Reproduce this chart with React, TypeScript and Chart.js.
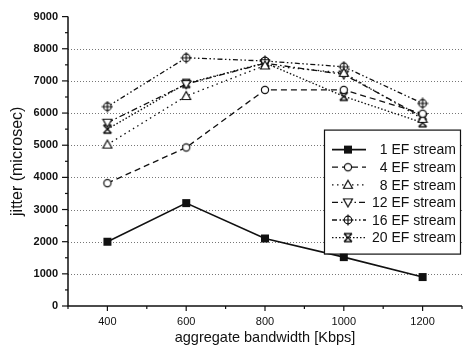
import React, { useEffect, useRef } from 'react';
import { Chart, registerables } from 'chart.js';

Chart.register(...registerables);

const bandwidth = [400, 600, 800, 1000, 1200];
const seriesNames = ['1 EF stream', '4 EF stream', '8 EF stream', '12 EF stream', '16 EF stream', '20 EF stream'];
const ef1 = [2000, 3200, 2100, 1520, 900];
const ef4 = [3820, 4930, 6720, 6720, 5980];
const ef8 = [5020, 6530, 7480, 7250, 5820];
const ef12 = [5700, 6900, 7550, 7200, 5880];
const ef16 = [6200, 7720, 7620, 7440, 6300];
const ef20 = [5500, 6920, 7560, 6520, 5700];
const yTickValues = [0, 1000, 2000, 3000, 4000, 5000, 6000, 7000, 8000, 9000];
const xTickLabels = [400, 600, 800, 1000, 1200];

const INK = '#111';
const FONT = 'Liberation Sans, Arial, sans-serif';

const markerKinds = ['square', 'circle', 'triUp', 'triDown', 'circlePlus', 'xBar'];
const dashes = [[], [6, 4], [1.5, 3.5], [6, 3, 1.5, 3], [5, 2.5, 1.5, 2.5, 1.5, 2.5], [1.5, 2]];

function makeMarker(kind: string): HTMLCanvasElement {
  const c = document.createElement('canvas');
  c.width = 12;
  c.height = 12;
  const g = c.getContext('2d')!;
  g.strokeStyle = INK;
  g.fillStyle = '#fff';
  g.lineWidth = 1.2;
  const cx = 6, cy = 6;
  g.beginPath();
  if (kind === 'square') {
    g.fillStyle = INK;
    g.fillRect(2, 2, 8, 8);
    return c;
  } else if (kind === 'circle') {
    g.arc(cx, cy, 3.6, 0, Math.PI * 2);
    g.fill();
    g.stroke();
  } else if (kind === 'triUp') {
    g.moveTo(cx, 1.5);
    g.lineTo(10.5, 9.5);
    g.lineTo(1.5, 9.5);
    g.closePath();
    g.fill();
    g.stroke();
  } else if (kind === 'triDown') {
    g.moveTo(cx, 10.5);
    g.lineTo(10.5, 2.5);
    g.lineTo(1.5, 2.5);
    g.closePath();
    g.fill();
    g.stroke();
  } else if (kind === 'circlePlus') {
    g.arc(cx, cy, 3.8, 0, Math.PI * 2);
    g.fill();
    g.stroke();
    g.beginPath();
    g.moveTo(cx, 0.5);
    g.lineTo(cx, 11.5);
    g.moveTo(0.5, cy);
    g.lineTo(11.5, cy);
    g.stroke();
  } else if (kind === 'xBar') {
    g.moveTo(2, 2);
    g.lineTo(10, 10);
    g.moveTo(10, 2);
    g.lineTo(2, 10);
    g.moveTo(2, 2);
    g.lineTo(10, 2);
    g.moveTo(2, 10);
    g.lineTo(10, 10);
    g.lineWidth = 1.5;
    g.stroke();
  }
  return c;
}

const axesPlugin = {
  id: 'customAxes',
  beforeDatasetsDraw(chart: any) {
    const { ctx, chartArea } = chart;
    const xs = chart.scales.x;
    const ys = chart.scales.y;
    ctx.save();
    ctx.strokeStyle = '#777';
    ctx.lineWidth = 1;
    ctx.setLineDash([1, 2]);
    yTickValues.forEach((v) => {
      if (v === 0 || v === 9000) return;
      const y = Math.round(ys.getPixelForValue(v)) + 0.5;
      ctx.beginPath();
      ctx.moveTo(chartArea.left, y);
      ctx.lineTo(chartArea.right, y);
      ctx.stroke();
    });
    ctx.setLineDash([]);
    ctx.strokeStyle = INK;
    ctx.lineWidth = 1.5;
    ctx.beginPath();
    ctx.moveTo(chartArea.left, chartArea.top);
    ctx.lineTo(chartArea.left, chartArea.bottom);
    ctx.lineTo(chartArea.right, chartArea.bottom);
    ctx.stroke();
    ctx.lineWidth = 1.2;
    for (let v = 0; v <= 9000; v += 500) {
      const y = ys.getPixelForValue(v);
      const len = v % 1000 === 0 ? 6 : 3;
      ctx.beginPath();
      ctx.moveTo(chartArea.left, y);
      ctx.lineTo(chartArea.left - len, y);
      ctx.stroke();
    }
    for (let v = 300; v <= 1300; v += 100) {
      const x = xs.getPixelForValue(v);
      const major = xTickLabels.includes(v);
      ctx.beginPath();
      ctx.moveTo(x, chartArea.bottom);
      ctx.lineTo(x, chartArea.bottom + (major ? 5 : 3));
      ctx.stroke();
    }
    ctx.restore();
  },
};

const legendPlugin = {
  id: 'boxLegend',
  afterDraw(chart: any) {
    const { ctx, chartArea } = chart;
    const boxL = chartArea.left + 256;
    const boxT = chartArea.top + 113;
    const boxW = 136;
    const boxH = 124;
    ctx.save();
    ctx.fillStyle = '#fff';
    ctx.fillRect(boxL, boxT, boxW, boxH);
    ctx.strokeStyle = INK;
    ctx.lineWidth = 1.2;
    ctx.strokeRect(boxL + 0.5, boxT + 0.5, boxW, boxH);
    chart.data.datasets.forEach((ds: any, i: number) => {
      const y = boxT + 20 + i * 17.6;
      ctx.strokeStyle = INK;
      ctx.lineWidth = ds.borderWidth;
      ctx.setLineDash(ds.borderDash || []);
      ctx.beginPath();
      ctx.moveTo(boxL + 8, y);
      ctx.lineTo(boxL + 42, y);
      ctx.stroke();
      ctx.setLineDash([]);
      const img = ds.pointStyle as HTMLCanvasElement;
      ctx.drawImage(img, boxL + 24 - img.width / 2, y - img.height / 2);
      ctx.fillStyle = INK;
      ctx.font = '14px ' + FONT;
      ctx.textAlign = 'right';
      ctx.textBaseline = 'middle';
      ctx.fillText(ds.label, boxL + boxW - 4, y + 1);
    });
    ctx.restore();
  },
};

export default function App() {
  const canvasRef = useRef<HTMLCanvasElement | null>(null);
  useEffect(() => {
    const values = [ef1, ef4, ef8, ef12, ef16, ef20];
    const datasets = values.map((vals, i) => ({
      label: seriesNames[i],
      data: bandwidth.map((b, j) => ({ x: b, y: vals[j] })),
      borderColor: INK,
      backgroundColor: INK,
      borderWidth: i === 0 ? 1.6 : 1.3,
      borderDash: dashes[i],
      pointStyle: makeMarker(markerKinds[i]),
      pointRadius: 5,
      tension: 0,
      fill: false,
    }));
    const chart = new Chart(canvasRef.current!, {
      type: 'line',
      data: { datasets },
      plugins: [axesPlugin, legendPlugin],
      options: {
        animation: false,
        responsive: false,
        devicePixelRatio: 1,
        layout: { padding: { left: 0, right: 4, top: 15, bottom: 0 } },
        plugins: { legend: { display: false }, tooltip: { enabled: false } },
        scales: {
          x: {
            type: 'linear',
            min: 300,
            max: 1300,
            grid: { display: false, drawTicks: false },
            border: { display: false },
            ticks: {
              stepSize: 100,
              autoSkip: false,
              maxRotation: 0,
              padding: 9,
              color: INK,
              font: { family: FONT, size: 11 },
              callback: (v: any) => (xTickLabels.includes(Number(v)) ? String(v) : ''),
            },
            title: {
              display: true,
              text: 'aggregate bandwidth [Kbps]',
              color: INK,
              font: { family: FONT, size: 14.5 },
              padding: { top: 0, bottom: 5 },
            },
            afterFit: (s: any) => {
              s.height = 46;
            },
          },
          y: {
            type: 'linear',
            min: 0,
            max: 9000,
            grid: { display: false, drawTicks: false },
            border: { display: false },
            ticks: {
              stepSize: 1000,
              padding: 10,
              color: INK,
              font: { family: FONT, size: 11, weight: 'bold' },
              callback: (v: any) => (yTickValues.includes(Number(v)) ? String(v) : ''),
            },
            title: {
              display: true,
              text: 'jitter (microsec)',
              color: INK,
              font: { family: FONT, size: 16 },
              padding: { top: 8, bottom: 0 },
            },
            afterFit: (s: any) => {
              s.width = 68;
            },
          },
        },
      } as any,
    });
    return () => chart.destroy();
  }, []);
  return (
    <div style={{ position: 'fixed', left: 0, top: 0, width: 471, height: 352, background: '#fff' }}>
      <canvas ref={canvasRef} width={471} height={352} />
    </div>
  );
}
